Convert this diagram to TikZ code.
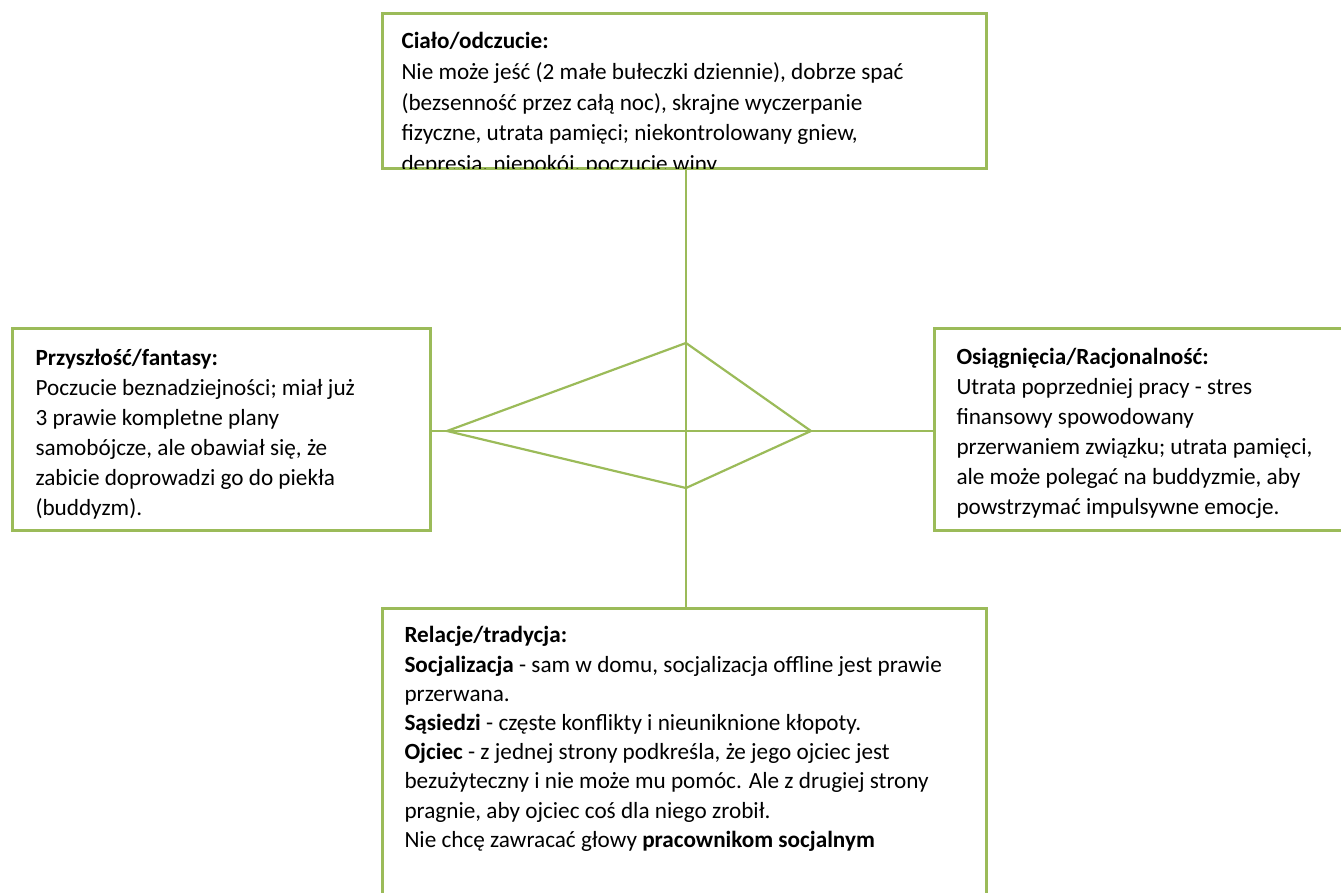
\documentclass[tikz,border=0pt]{standalone}
\usepackage{fontspec}
\setmainfont{Carlito}
\definecolor{leaf}{HTML}{9BBB59}

\begin{document}
\begin{tikzpicture}[x=0.5pt,y=-0.5pt,line width=1.5pt,font=\fontsize{11.6}{14.6}\selectfont,
  box/.style={rectangle,draw=leaf,inner sep=0pt},
  link/.style={draw=leaf,line width=1.2pt},
  txt/.style={anchor=base west,align=flush left,text width=320pt,inner sep=0pt}]

  \useasboundingbox (0,0) rectangle (1341,893);
  \clip (0,0) rectangle (1341,893);

  % the four boxes
  \node[box,minimum width=302pt,minimum height=77.5pt] (cialo) at (684,91.5) {};
  \node[box,minimum width=209pt,minimum height=101pt] (przyszlosc) at (221,430) {};
  \node[box,minimum width=209pt,minimum height=101pt] (osiagniecia) at (1143,430) {};
  \node[box,minimum width=302pt,minimum height=150pt] (relacje) at (684,759) {};

  % the diamond in the middle
  \coordinate (d-top) at (686,343);
  \coordinate (d-left) at (447,431);
  \coordinate (d-right) at (811,431);
  \coordinate (d-bot) at (686,488);

  \draw[link] (cialo.south -| d-top) -- (relacje.north -| d-top);
  \draw[link] (przyszlosc.east |- d-left) -- (osiagniecia.west |- d-right);
  \draw[link,line width=1.1pt] (d-top) -- (d-right) -- (d-bot) -- (d-left) -- cycle;

  \begin{scope}
    \clip (cialo.north west) rectangle ([yshift=0.75pt]cialo.south east);
    \node[txt,font=\fontsize{11.6}{15.3}\selectfont] (cialo-txt) at (400,49) {\textbf{Ciało/odczucie:}\\
      Nie może jeść (2 małe bułeczki dziennie), dobrze spać\\
      (bezsenność przez całą noc), skrajne wyczerpanie\\
      fizyczne, utrata pamięci; niekontrolowany gniew,\\
      depresja, niepokój, poczucie winy};
  \end{scope}

  \node[txt,font=\fontsize{11.6}{15}\selectfont] (przyszlosc-txt) at (34,366) {\textbf{Przyszłość/fantasy:}\\
    Poczucie beznadziejności; miał już\\
    3 prawie kompletne plany\\
    samobójcze, ale obawiał się, że\\
    zabicie doprowadzi go do piekła\\
    (buddyzm).};

  \node[txt,font=\fontsize{11.6}{15}\selectfont] (osiagniecia-txt) at (955,365) {\textbf{Osiągnięcia/Racjonalność:}\\
    Utrata poprzedniej pracy - stres\\
    finansowy spowodowany\\
    przerwaniem związku; utrata pamięci,\\
    ale może polegać na buddyzmie, aby\\
    powstrzymać impulsywne emocje.};

  \node[txt] (relacje-txt) at (403,643) {\textbf{Relacje/tradycja:}\\
    \textbf{Socjalizacja} - sam w domu, socjalizacja offline jest prawie\\
    przerwana.\\
    \textbf{Sąsiedzi} - częste konflikty i nieuniknione kłopoty.\\
    \textbf{Ojciec} - z jednej strony podkreśla, że jego ojciec jest\\
    bezużyteczny i nie może mu pomóc. Ale z drugiej strony\\
    pragnie, aby ojciec coś dla niego zrobił.\\
    Nie chcę zawracać głowy \textbf{pracownikom socjalnym}};
\end{tikzpicture}
\end{document}
